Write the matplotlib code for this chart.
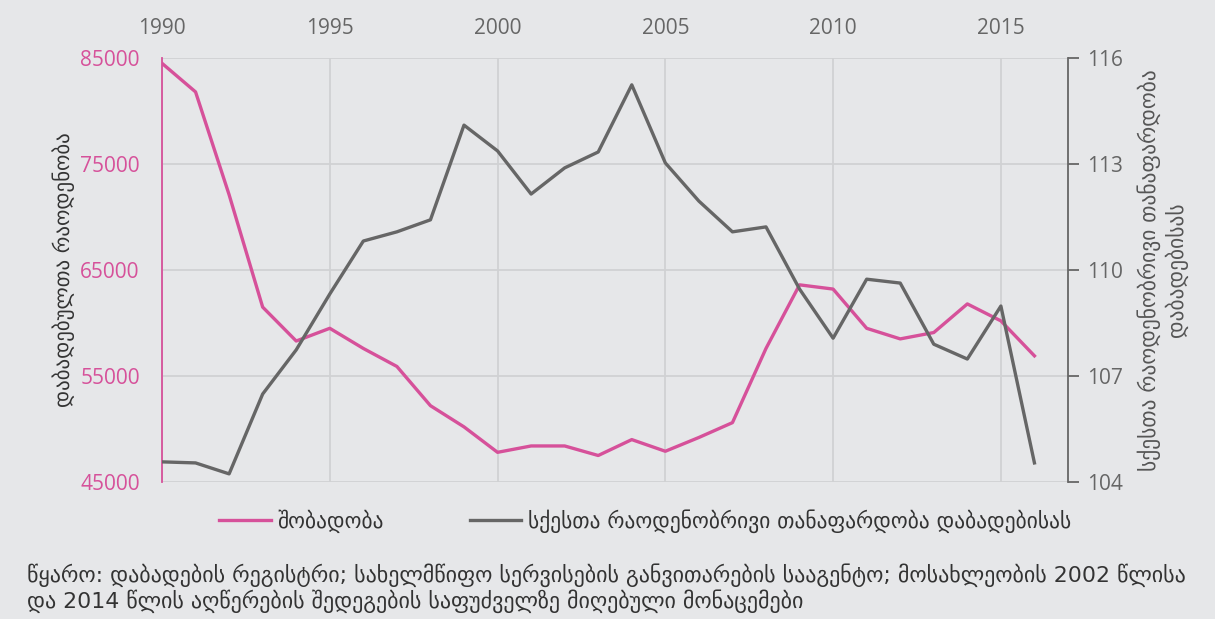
import matplotlib.pyplot as plt

# data
years = list(range(1990, 2017))
births = [84500, 81800, 72100, 61500, 58300, 59500, 57600, 55900, 52200, 50200,
          47800, 48400, 48400, 47500, 49000, 47900, 49200, 50600, 57600, 63600,
          63200, 59500, 58500, 59100, 61800, 60200, 56900]
sex_ratio = [104.57, 104.54, 104.23, 106.49, 107.74, 109.32, 110.82, 111.08, 111.42, 114.10,
             113.37, 112.15, 112.89, 113.34, 115.24, 113.03, 111.95, 111.08, 111.22, 109.46,
             108.07, 109.74, 109.63, 107.90, 107.48, 108.98, 104.54]

left_ticks = [45000, 55000, 65000, 75000, 85000]
right_ticks = [104, 107, 110, 113, 116]
year_ticks = [1990, 1995, 2000, 2005, 2010, 2015]

pink = '#d6519a'
grey = '#666666'
bg = '#e6e7e9'
geo = ['DejaVu Sans']
num = ['Open Sans', 'DejaVu Sans']

fig = plt.figure(figsize=(12.15, 6.19), dpi=100, facecolor=bg)
ax = fig.add_axes([162/1215, 1 - 482/619, (1068 - 162)/1215, (482 - 58)/619])
ax.set_facecolor(bg)

ax.plot(years, births, color=pink, lw=2.4, label='შობადობა')
ax.set_xlim(1990, 2017)
ax.set_ylim(45000, 85000)
ax.set_yticks(left_ticks)
ax.set_xticks(year_ticks)
ax.grid(True, color='#d0d1d3', lw=1.3)
ax.set_axisbelow(True)
ax.xaxis.tick_top()
ax.tick_params(axis='x', length=0, pad=14, labelsize=15, labelcolor=grey)
ax.tick_params(axis='y', length=0, pad=16, labelsize=15, labelcolor=pink)
for lab in ax.get_xticklabels() + ax.get_yticklabels():
    lab.set_family(num)
for s in ['top', 'bottom', 'right']:
    ax.spines[s].set_visible(False)
ax.spines['left'].set_color(pink)
ax.spines['left'].set_linewidth(1.3)
ax.set_ylabel('დაბადებულთა რაოდენობა', family=geo, fontsize=15, color='#333333')
ax.yaxis.set_label_coords(-0.096, 0.5)

ax2 = ax.twinx()
ax2.plot(years, sex_ratio, color=grey, lw=2.4, label='სქესთა რაოდენობრივი თანაფარდობა დაბადებისას')
ax2.set_ylim(104, 116)
ax2.set_yticks(right_ticks)
ax2.tick_params(axis='y', length=8, width=1.3, color=grey, pad=6, labelsize=15, labelcolor=grey)
for lab in ax2.get_yticklabels():
    lab.set_family(num)
for s in ['top', 'bottom', 'left']:
    ax2.spines[s].set_visible(False)
ax2.spines['right'].set_color(grey)
ax2.spines['right'].set_linewidth(1.3)
ax2.set_ylabel('სქესთა რაოდენობრივი თანაფარდობა\nდაბადებისას', family=geo, fontsize=15.5,
               color='#555555', rotation=90, linespacing=1.2)
ax2.yaxis.set_label_coords(1.077, 0.5)

h1, l1 = ax.get_legend_handles_labels()
h2, l2 = ax2.get_legend_handles_labels()
fig.legend(h1 + h2, l1 + l2, loc='center', bbox_to_anchor=(645/1215, 1 - 521/619), ncol=2,
           frameon=False, prop={'family': geo, 'size': 15.5}, handlelength=2.4,
           columnspacing=4.0, handletextpad=0.3, labelcolor='#333333')

fig.text(27/1215, 1 - 575/619, 'წყარო: დაბადების რეგისტრი; სახელმწიფო სერვისების განვითარების სააგენტო; მოსახლეობის 2002 წლისა',
         family=geo, fontsize=15.8, color='#333333', va='center')
fig.text(27/1215, 1 - 601/619, 'და 2014 წლის აღწერების შედეგების საფუძველზე მიღებული მონაცემები',
         family=geo, fontsize=15.8, color='#333333', va='center')

fig.savefig('out.png', dpi=100, facecolor=bg)
